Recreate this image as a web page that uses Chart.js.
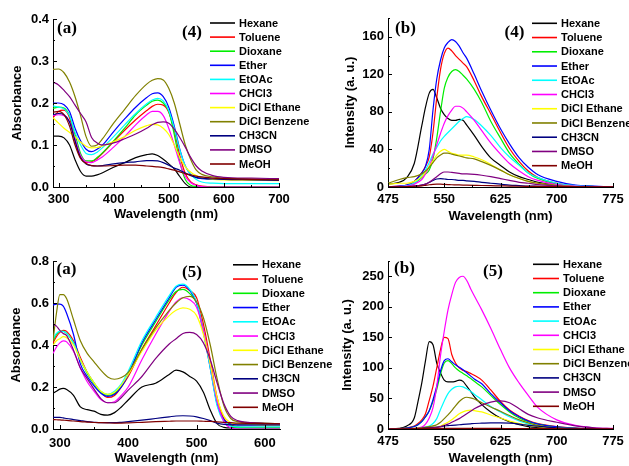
<!DOCTYPE html>
<html>
<head>
<meta charset="utf-8">
<script src="https://cdn.jsdelivr.net/npm/chart.js@4.4.1/dist/chart.umd.min.js"></script>
<style>
  body { margin: 0; background: #fff; }
  #fig { position: relative; width: 629px; height: 466px; overflow: hidden; }
  #fig canvas { position: absolute; }
</style>
</head>
<body>
<div id="fig">
  <canvas id="abs4" width="320" height="230" style="left:0;top:0"></canvas>
  <canvas id="em4" width="309" height="230" style="left:320px;top:0"></canvas>
  <canvas id="abs5" width="340" height="236" style="left:0;top:230px"></canvas>
  <canvas id="em5" width="309" height="236" style="left:320px;top:230px"></canvas>
</div>
<script>
const solvents = ['Hexane', 'Toluene', 'Dioxane', 'Ether', 'EtOAc', 'CHCl3', 'DiCl Ethane', 'DiCl Benzene', 'CH3CN', 'DMSO', 'MeOH'];
const solventColors = ['#000000', '#ff0000', '#00ee00', '#0000ff', '#00ffff', '#ff00ff', '#ffff00', '#808000', '#000080', '#800080', '#800000'];

// compound 4, absorption
const wlAbs4 = [290, 300, 310, 320, 330, 340, 350, 360, 370, 380, 400, 420, 440, 460, 470, 480, 490, 500, 510, 520, 530, 540, 550, 560, 580, 600, 650, 700];
const abs4Hexane = [.121, .121, .117, .1, .065, .037, .026, .026, .029, .034, .047, .058, .07, .077, .079, .075, .066, .055, .043, .025, .008, 0, 0, 0, 0, 0, 0, 0];
const abs4Toluene = [.165, .18, .183, .165, .11, .07, .058, .06, .068, .08, .108, .135, .16, .182, .192, .197, .195, .178, .135, .075, .032, .012, .005, .002, 0, 0, 0, 0];
const abs4Dioxane = [.187, .19, .188, .17, .125, .08, .062, .062, .07, .082, .11, .14, .172, .195, .204, .207, .2, .18, .125, .06, .018, .004, .001, 0, 0, 0, 0, 0];
const abs4Ether = [.2, .2, .196, .18, .14, .11, .09, .084, .09, .1, .132, .162, .19, .213, .222, .224, .215, .19, .145, .09, .05, .03, .022, .02, .018, .018, .017, .016];
const abs4EtOAc = [.193, .19, .186, .17, .13, .1, .08, .077, .083, .094, .12, .148, .175, .198, .207, .211, .205, .182, .14, .088, .05, .03, .018, .012, .009, .008, .008, .008];
const abs4CHCl3 = [.17, .172, .17, .155, .115, .075, .06, .058, .064, .072, .095, .12, .148, .172, .18, .18, .17, .14, .1, .057, .025, .01, .004, .001, 0, 0, 0, 0];
const abs4DiClEthane = [.165, .152, .14, .13, .12, .107, .097, .093, .094, .098, .108, .12, .135, .146, .149, .148, .14, .125, .1, .07, .048, .035, .027, .022, .018, .017, .016, .015];
const abs4DiClBenzene = [.28, .281, .272, .25, .215, .17, .12, .097, .1, .115, .152, .185, .218, .245, .254, .258, .255, .235, .2, .15, .1, .065, .04, .03, .024, .021, .019, .018];
const abs4CH3CN = [.172, .175, .172, .155, .11, .07, .055, .051, .05, .051, .055, .058, .06, .063, .063, .062, .058, .052, .045, .04, .033, .027, .023, .021, .019, .018, .017, .016];
const abs4DMSO = [.25, .243, .23, .215, .195, .175, .155, .118, .105, .1, .105, .115, .126, .14, .148, .154, .155, .152, .138, .118, .095, .07, .05, .038, .027, .023, .021, .02];
const abs4MeOH = [.178, .18, .172, .145, .1, .068, .056, .051, .05, .05, .051, .052, .052, .05, .049, .048, .046, .043, .04, .036, .032, .029, .026, .024, .021, .02, .018, .017];

// compound 4, emission
const wlEm4 = [475, 490, 500, 510, 520, 525, 530, 535, 540, 545, 550, 555, 560, 565, 570, 575, 580, 590, 600, 612, 625, 637, 650, 662, 675, 700, 725, 750, 775];
const em4Hexane = [3, 5, 10, 25, 65, 85, 100, 104, 95, 84, 77, 73, 71, 71, 72, 71, 66, 55, 43, 31, 23, 16, 11, 8, 5, 2, 1, 0.5, 0];
const em4Toluene = [0, 1, 2, 6, 15, 22, 32, 58, 95, 125, 142, 148, 145, 140, 136, 132, 128, 113, 96, 78, 58, 41, 27, 17, 10, 4, 1.5, 0.5, 0];
const em4Dioxane = [0, 0.5, 1.5, 4, 10, 14, 18, 30, 52, 80, 105, 117, 123, 125, 123, 119, 115, 104, 90, 70, 52, 36, 24, 15, 9, 3, 1, 0.5, 0];
const em4Ether = [0, 1, 2, 6, 15, 22, 40, 82, 115, 135, 148, 154, 157, 155, 150, 143, 137, 120, 102, 82, 62, 46, 31, 21, 13, 6, 2, 1, 0];
const em4EtOAc = [0, 0.5, 1.5, 4, 12, 18, 26, 35, 42, 49, 54, 58, 62, 66, 70, 73, 75, 72, 65, 55, 42, 32, 23, 15, 10, 4, 1.5, 0.5, 0];
const em4CHCl3 = [0, 0.5, 1, 3, 8, 14, 22, 33, 45, 57, 68, 76, 82, 86, 86, 84, 80, 71, 60, 47, 35, 25, 17, 11, 7, 2.5, 1, 0.3, 0];
const em4DiClEthane = [3, 4, 4, 6, 11, 16, 22, 28, 34, 38, 40, 38, 36, 35, 34, 34, 34, 32, 29, 24, 18, 13, 9, 6, 4, 1.5, 0.5, 0.2, 0];
const em4DiClBenzene = [4, 8, 10, 11, 14, 17, 21, 26, 31, 34, 36, 36, 35, 34, 33, 32, 31, 30, 27, 23, 18, 13, 9, 6, 4, 1.5, 0.5, 0.2, 0];
const em4CH3CN = [0, 0.3, 0.5, 1, 2, 3, 5, 7, 8.5, 9, 8.5, 8, 8, 7.5, 7, 7, 6.5, 6, 5, 4, 3, 2, 1.5, 1, 0.8, 0.4, 0.2, 0.1, 0];
const em4DMSO = [0, 0.3, 0.5, 1, 2, 3, 5, 8, 11, 14, 16, 16, 15.5, 15, 14.5, 14, 14, 13.5, 12.5, 11, 9, 7, 5, 4, 2.5, 1.2, 0.5, 0.3, 0];
const em4MeOH = [0, 0.2, 0.4, 0.7, 1.2, 1.8, 2.4, 2.8, 3, 3, 2.8, 2.6, 2.4, 2.3, 2.2, 2.1, 2, 1.8, 1.6, 1.4, 1.2, 1, 0.8, 0.7, 0.6, 0.4, 0.3, 0.2, 0.1];

// compound 5, absorption
const wlAbs5 = [290, 295, 300, 305, 310, 320, 330, 340, 350, 360, 370, 380, 390, 400, 420, 440, 460, 470, 480, 490, 500, 510, 520, 530, 540, 550, 560, 580, 600, 622];
const abs5Hexane = [.17, .18, .19, .193, .188, .16, .105, .092, .085, .07, .066, .078, .105, .138, .2, .218, .26, .28, .272, .25, .228, .175, .09, .025, .008, .005, .005, .005, .005, .005];
const abs5Toluene = [.41, .44, .46, .47, .465, .42, .34, .27, .22, .175, .15, .16, .2, .25, .38, .49, .6, .65, .675, .66, .625, .5, .33, .15, .05, .02, .01, .008, .008, .008];
const abs5Dioxane = [.42, .45, .465, .465, .455, .41, .33, .265, .215, .175, .16, .17, .205, .26, .4, .51, .615, .655, .665, .645, .6, .47, .3, .12, .04, .015, .008, .006, .006, .006];
const abs5Ether = [.59, .595, .595, .585, .55, .45, .31, .25, .205, .17, .155, .165, .2, .26, .41, .52, .625, .675, .685, .66, .6, .46, .29, .12, .045, .025, .02, .02, .02, .02];
const abs5EtOAc = [.43, .455, .465, .465, .455, .41, .33, .27, .22, .18, .165, .18, .215, .275, .42, .53, .635, .68, .69, .665, .605, .46, .29, .11, .035, .015, .01, .01, .01, .01];
const abs5CHCl3 = [.36, .39, .41, .42, .415, .37, .29, .225, .18, .14, .125, .13, .16, .2, .33, .45, .56, .605, .625, .615, .58, .47, .31, .13, .035, .005, 0, 0, 0, 0];
const abs5DiClEthane = [.4, .42, .43, .44, .435, .4, .33, .27, .22, .18, .165, .175, .21, .26, .37, .47, .54, .565, .577, .57, .54, .45, .31, .15, .06, .03, .024, .022, .02, .02];
const abs5DiClBenzene = [.42, .55, .64, .64, .62, .52, .42, .36, .32, .28, .248, .237, .245, .27, .38, .48, .565, .6, .625, .632, .605, .53, .4, .24, .11, .05, .035, .03, .028, .025];
const abs5CH3CN = [.055, .055, .055, .053, .05, .045, .04, .035, .032, .03, .03, .03, .032, .035, .042, .05, .058, .062, .063, .062, .058, .05, .04, .028, .022, .02, .02, .02, .02, .02];
const abs5DMSO = [.5, .49, .47, .455, .445, .375, .29, .24, .19, .145, .125, .125, .15, .185, .25, .335, .405, .43, .455, .46, .45, .41, .33, .22, .12, .06, .04, .03, .027, .025];
const abs5MeOH = [.045, .044, .043, .042, .041, .038, .035, .033, .031, .03, .029, .028, .028, .029, .032, .035, .037, .038, .038, .038, .038, .037, .036, .034, .032, .03, .028, .027, .026, .025];

// compound 5, emission
const wlEm5 = [475, 490, 500, 510, 515, 520, 525, 530, 535, 540, 545, 550, 555, 560, 565, 570, 575, 580, 585, 590, 600, 612, 625, 637, 650, 662, 675, 700, 725, 750, 775];
const em5Hexane = [0, 1, 5, 18, 45, 75, 112, 143, 138, 108, 92, 80, 77, 77, 78, 80, 78, 70, 62, 53, 40, 28, 18, 12, 7, 4, 2.5, 1, 0.5, 0.2, 0];
const em5Toluene = [0, 0.5, 2, 5, 9, 15, 25, 47, 70, 100, 130, 150, 148, 122, 108, 100, 96, 94, 91, 88, 80, 64, 45, 31, 21, 14, 9, 4, 1.5, 0.5, 0];
const em5Dioxane = [0, 0.5, 1.5, 4, 7, 12, 20, 30, 45, 65, 90, 108, 112, 107, 100, 95, 91, 87, 83, 78, 69, 55, 40, 28, 18, 12, 8, 3, 1, 0.4, 0];
const em5Ether = [0, 0.5, 1.5, 4, 7, 12, 20, 30, 48, 70, 95, 112, 115, 110, 105, 101, 97, 92, 87, 82, 74, 58, 43, 30, 20, 13, 8, 3.5, 1.2, 0.5, 0];
const em5EtOAc = [0, 0, 0.3, 0.8, 1.2, 2, 3, 5, 9, 17, 32, 46, 58, 65, 69, 70, 69, 66, 62, 57, 48, 37, 28, 20, 13, 8, 5, 2, 0.8, 0.3, 0];
const em5CHCl3 = [0, 0, 0.5, 1, 2, 3, 8, 18, 35, 70, 120, 160, 195, 220, 240, 248, 250, 243, 230, 218, 195, 165, 130, 100, 75, 55, 35, 15, 6, 2, 1];
const em5DiClEthane = [0, 0, 0.3, 0.8, 1, 1.5, 2, 2.5, 3, 3, 5, 8, 11, 15, 20, 25, 28, 30, 31, 30, 28, 23, 18, 13, 9, 6, 4, 1.5, 0.5, 0.2, 0];
const em5DiClBenzene = [0, 0, 0.3, 1, 1.5, 2, 3, 4, 5, 7, 11, 17, 23, 30, 38, 45, 50, 52, 51, 49, 43, 36, 29, 22, 15, 10, 6, 2, 0.8, 0.3, 0];
const em5CH3CN = [0, 0, 0.2, 0.5, 0.8, 1, 1.5, 2, 2.5, 3, 4, 5, 5.5, 6, 6.5, 7, 7.5, 8, 8.5, 9, 9.5, 10, 10, 9.5, 8, 6, 4.5, 2, 1, 0.5, 0.2];
const em5DMSO = [0, 0, 0, 0.3, 0.5, 0.8, 1, 1.5, 2, 2.5, 4, 6, 8, 11, 14, 17, 21, 25, 29, 33, 39, 44, 46, 43, 33, 24, 18, 11, 5, 2, 0.5];
const em5MeOH = [0, 0.2, 0.4, 0.6, 0.7, 0.8, 0.9, 1, 1, 1, 1, 1, 1, 1, 1, 1, 1, 1, 1, 1, 1, 0.9, 0.9, 0.8, 0.8, 0.7, 0.6, 0.5, 0.4, 0.3, 0.2];

// tick values
const absTicks4 = [0, 0.1, 0.2, 0.3, 0.4];
const absTicks5 = [0, 0.2, 0.4, 0.6, 0.8];
const emTicks4 = [0, 40, 80, 120, 160];
const emTicks5 = [0, 50, 100, 150, 200, 250];
const wlTicksAbs4 = [300, 400, 500, 600, 700];
const wlTicksAbs5 = [300, 400, 500, 600];
const wlTicksEm = [475, 550, 625, 700, 775];

const sansFamily = '"Liberation Sans", Arial, Helvetica, sans-serif';
const tickFont = { family: sansFamily, size: 13, weight: 'bold' };
const titleFont = { family: sansFamily, size: 13, weight: 'bold' };

// solvent key drawn to the right of each plot
const sideLegend = {
  id: 'sideLegend',
  afterDraw(chart, args, opts) {
    const ctx = chart.ctx;
    ctx.save();
    ctx.font = 'bold 11px ' + sansFamily;
    ctx.textBaseline = 'middle';
    ctx.textAlign = 'left';
    chart.data.datasets.forEach((ds, i) => {
      const y = opts.top + i * opts.step;
      ctx.strokeStyle = ds.borderColor;
      ctx.lineWidth = 1.6;
      ctx.beginPath();
      ctx.moveTo(opts.lineFrom, y);
      ctx.lineTo(opts.lineTo, y);
      ctx.stroke();
      ctx.fillStyle = '#000';
      ctx.fillText(ds.label, opts.textX, y + 0.5);
    });
    ctx.restore();
  }
};

// (a)/(b) and compound number
const panelTags = {
  id: 'panelTags',
  afterDraw(chart, args, opts) {
    const ctx = chart.ctx;
    ctx.save();
    ctx.font = 'bold 17px "Liberation Serif", "Times New Roman", serif';
    ctx.textAlign = 'center';
    ctx.textBaseline = 'middle';
    ctx.fillStyle = '#000';
    opts.tags.forEach(t => ctx.fillText(t.text, t.x, t.y));
    ctx.restore();
  }
};

// inward major + minor tick marks on both axes
const innerTicks = {
  id: 'innerTicks',
  afterDraw(chart, args, opts) {
    const { ctx, chartArea: a } = chart;
    const sx = chart.scales.x, sy = chart.scales.y;
    const marks = (scale, step) => {
      const base = scale.ticks[0].value;
      const out = [];
      const k0 = Math.ceil((scale.min - base) / step - 1e-6);
      const k1 = Math.floor((scale.max - base) / step + 1e-6);
      for (let k = k0; k <= k1; k++) {
        const v = base + k * step;
        const major = scale.ticks.some(t => Math.abs(t.value - v) < step * 1e-3);
        out.push({ v, major });
      }
      return out;
    };
    ctx.save();
    ctx.strokeStyle = '#000';
    ctx.lineWidth = 1;
    ctx.beginPath();
    marks(sx, opts.xMinor).forEach(m => {
      const px = Math.round(sx.getPixelForValue(m.v)) + 0.5;
      ctx.moveTo(px, a.bottom);
      ctx.lineTo(px, a.bottom - (m.major ? 4 : 2));
    });
    marks(sy, opts.yMinor).forEach(m => {
      const py = Math.round(sy.getPixelForValue(m.v)) + 0.5;
      ctx.moveTo(a.left, py);
      ctx.lineTo(a.left + (m.major ? 4 : 2), py);
    });
    ctx.stroke();
    ctx.restore();
  }
};

function solventSets(wl, series) {
  return series.map((ys, i) => ({
    label: solvents[i],
    data: ys.map((y, j) => ({ x: wl[j], y })),
    borderColor: solventColors[i],
    backgroundColor: solventColors[i],
    borderWidth: 1.2,
    pointRadius: 0,
    cubicInterpolationMode: 'monotone',
    order: solvents.length - i,
  }));
}

function buildPanel(id, p) {
  return new Chart(document.getElementById(id), {
    type: 'line',
    data: { datasets: solventSets(p.wl, p.series) },
    options: {
      responsive: false,
      animation: false,
      events: [],
      layout: { padding: { left: 0, top: p.top, right: p.right, bottom: 0 } },
      plugins: {
        legend: { display: false },
        tooltip: { enabled: false },
        sideLegend: p.legend,
        panelTags: { tags: p.tags },
        innerTicks: { xMinor: p.xMinor, yMinor: p.yMinor },
      },
      scales: {
        x: {
          type: 'linear',
          min: p.xMin,
          max: p.xMax,
          afterFit(s) { s.height = p.xBand; },
          afterBuildTicks(s) { s.ticks = p.xTicks.map(v => ({ value: v })); },
          grid: { display: false, drawTicks: false },
          border: { display: true, color: '#000', width: 1 },
          ticks: { color: '#000', font: tickFont, padding: p.xTickPad, maxRotation: 0, autoSkip: false },
          title: { display: true, text: 'Wavelength (nm)', color: '#000', font: titleFont, padding: { top: 0, bottom: p.xTitlePad } },
        },
        y: {
          type: 'linear',
          min: p.yMin,
          max: p.yMax,
          afterFit(s) { s.width = p.yBand; },
          afterBuildTicks(s) { s.ticks = p.yTicks.map(v => ({ value: v })); },
          grid: { display: false, drawTicks: false },
          border: { display: true, color: '#000', width: 1 },
          ticks: { color: '#000', font: tickFont, padding: 4, autoSkip: false, callback: v => v.toFixed(p.yDecimals) },
          title: { display: true, text: p.yTitle, color: '#000', font: titleFont, padding: { top: p.yTitlePad, bottom: 0 } },
        },
      },
    },
    plugins: [sideLegend, panelTags, innerTicks],
  });
}

buildPanel('abs4', {
  wl: wlAbs4,
  series: [abs4Hexane, abs4Toluene, abs4Dioxane, abs4Ether, abs4EtOAc, abs4CHCl3, abs4DiClEthane, abs4DiClBenzene, abs4CH3CN, abs4DMSO, abs4MeOH],
  xMin: 290, xMax: 700, xTicks: wlTicksAbs4, xMinor: 50,
  yMin: 0, yMax: 0.4, yTicks: absTicks4, yMinor: 0.05, yDecimals: 1,
  yTitle: 'Absorbance',
  top: 19, right: 41, xBand: 43, yBand: 53,
  xTickPad: 5, xTitlePad: 8, yTitlePad: 10,
  legend: { lineFrom: 210, lineTo: 235, textX: 239, top: 23, step: 14.1 },
  tags: [{ text: '(a)', x: 67, y: 29 }, { text: '(4)', x: 192, y: 33 }],
});

buildPanel('em4', {
  wl: wlEm4,
  series: [em4Hexane, em4Toluene, em4Dioxane, em4Ether, em4EtOAc, em4CHCl3, em4DiClEthane, em4DiClBenzene, em4CH3CN, em4DMSO, em4MeOH],
  xMin: 475, xMax: 775, xTicks: wlTicksEm, xMinor: 37.5,
  yMin: 0, yMax: 180, yTicks: emTicks4, yMinor: 20, yDecimals: 0,
  yTitle: 'Intensity (a. u.)',
  top: 18, right: 16, xBand: 43, yBand: 68,
  xTickPad: 5, xTitlePad: 6, yTitlePad: 23,
  legend: { lineFrom: 212, lineTo: 237, textX: 241, top: 23.3, step: 14.24 },
  tags: [{ text: '(b)', x: 85.5, y: 28.5 }, { text: '(4)', x: 194.5, y: 33 }],
});

buildPanel('abs5', {
  wl: wlAbs5,
  series: [abs5Hexane, abs5Toluene, abs5Dioxane, abs5Ether, abs5EtOAc, abs5CHCl3, abs5DiClEthane, abs5DiClBenzene, abs5CH3CN, abs5DMSO, abs5MeOH],
  xMin: 290, xMax: 622, xTicks: wlTicksAbs5, xMinor: 50,
  yMin: 0, yMax: 0.8, yTicks: absTicks5, yMinor: 0.1, yDecimals: 1,
  yTitle: 'Absorbance',
  top: 31, right: 60, xBand: 37, yBand: 53,
  xTickPad: 7, xTitlePad: 0, yTitlePad: 9,
  legend: { lineFrom: 233, lineTo: 258, textX: 262, top: 34.8, step: 14.25 },
  tags: [{ text: '(a)', x: 66.5, y: 40 }, { text: '(5)', x: 192, y: 43 }],
});

buildPanel('em5', {
  wl: wlEm5,
  series: [em5Hexane, em5Toluene, em5Dioxane, em5Ether, em5EtOAc, em5CHCl3, em5DiClEthane, em5DiClBenzene, em5CH3CN, em5DMSO, em5MeOH],
  xMin: 475, xMax: 775, xTicks: wlTicksEm, xMinor: 37.5,
  yMin: 0, yMax: 275, yTicks: emTicks5, yMinor: 25, yDecimals: 0,
  yTitle: 'Intensity (a. u.)',
  top: 31, right: 16, xBand: 37, yBand: 68,
  xTickPad: 5, xTitlePad: 0, yTitlePad: 20,
  legend: { lineFrom: 213, lineTo: 239, textX: 243, top: 34.3, step: 14.2 },
  tags: [{ text: '(b)', x: 84.5, y: 38.5 }, { text: '(5)', x: 173, y: 42 }],
});
</script>
</body>
</html>
